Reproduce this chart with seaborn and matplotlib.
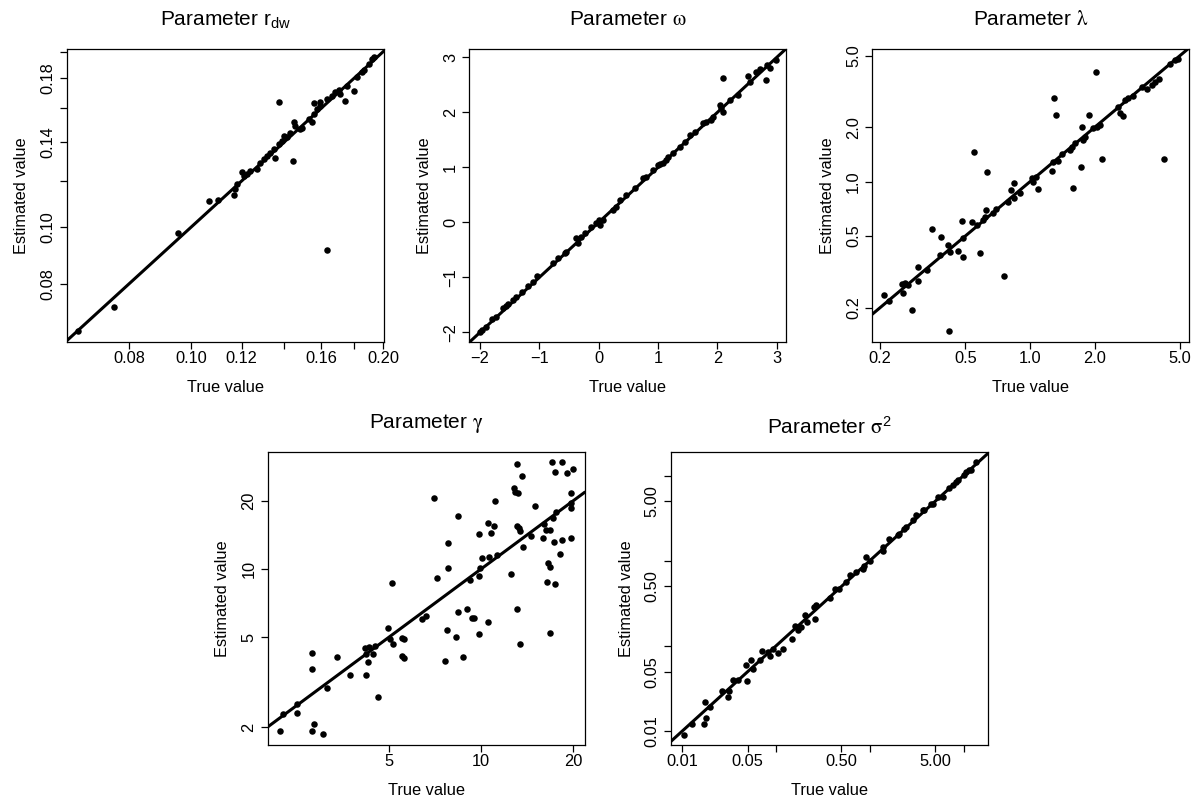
import matplotlib
matplotlib.use("Agg")
import matplotlib.pyplot as plt
import pandas as pd
import seaborn as sns

# values (true vs estimated, per parameter)
rdw_true = [0.0665, 0.0758, 0.0953, 0.1068, 0.1104, 0.1166, 0.1173, 0.1180, 0.1202, 0.1209,
            0.1224, 0.1239, 0.1269, 0.1284, 0.1300, 0.1315, 0.1331, 0.1355, 0.1347, 0.1372,
            0.1372, 0.1388, 0.1397, 0.1414, 0.1431, 0.1445, 0.1451, 0.1457, 0.1483, 0.1492,
            0.1529, 0.1547, 0.1556, 0.1560, 0.1575, 0.1590, 0.1594, 0.1633, 0.1633, 0.1663,
            0.1683, 0.1703, 0.1714, 0.1745, 0.1755, 0.1798, 0.1820, 0.1853, 0.1864, 0.1898,
            0.1921, 0.1932]
rdw_est = [0.0664, 0.0731, 0.0976, 0.1110, 0.1114, 0.1135, 0.1161, 0.1184, 0.1244, 0.1224,
           0.1232, 0.1249, 0.1257, 0.1290, 0.1308, 0.1325, 0.1343, 0.1313, 0.1360, 0.1637,
           0.1388, 0.1406, 0.1434, 0.1425, 0.1453, 0.1299, 0.1516, 0.1492, 0.1473, 0.1482,
           0.1532, 0.1512, 0.1563, 0.1630, 0.1594, 0.1637, 0.1615, 0.0915, 0.1659, 0.1681,
           0.1703, 0.1719, 0.1692, 0.1643, 0.1749, 0.1710, 0.1807, 0.1843, 0.1861, 0.1905,
           0.1944, 0.1956]

omega_true = [-2.006, -1.961, -1.904, -1.792, -1.725, -1.612, -1.567, -1.528, -1.444, -1.388,
              -1.287, -1.191, -1.107, -1.039, -0.770, -0.685, -0.573, -0.545, -0.376, -0.348,
              -0.292, -0.236, -0.124, -0.039, 0.006, 0.017, 0.073, 0.242, 0.298, 0.354,
              0.466, 0.607, 0.747, 0.803, 0.916, 1.000, 1.028, 1.084, 1.140, 1.169,
              1.253, 1.365, 1.449, 1.534, 1.618, 1.758, 1.815, 1.899, 1.927, 2.039,
              2.067, 2.096, 2.096, 2.208, 2.348, 2.517, 2.545, 2.657, 2.713, 2.815,
              2.837, 2.882, 2.994]
omega_est = [-1.988, -1.958, -1.897, -1.764, -1.715, -1.564, -1.521, -1.485, -1.412, -1.352,
             -1.261, -1.158, -1.079, -0.976, -0.745, -0.655, -0.564, -0.533, -0.291, -0.370,
             -0.273, -0.200, -0.079, -0.006, 0.042, -0.048, 0.042, 0.224, 0.285, 0.406,
             0.497, 0.618, 0.800, 0.830, 0.952, 1.042, 1.061, 1.073, 1.133, 1.194,
             1.255, 1.376, 1.467, 1.588, 1.648, 1.800, 1.830, 1.861, 1.921, 2.133,
             2.073, 2.012, 2.630, 2.224, 2.315, 2.661, 2.558, 2.739, 2.782, 2.588,
             2.861, 2.812, 2.952]

lam_true = [0.209, 0.2204, 0.2525, 0.2570, 0.2616, 0.2711, 0.2810, 0.3019, 0.3019, 0.3301,
            0.3482, 0.3808, 0.3836, 0.4209, 0.4164, 0.4239, 0.4603, 0.4822, 0.4857, 0.4857,
            0.5350, 0.5644, 0.5465, 0.5828, 0.6062, 0.6171, 0.6215, 0.6304, 0.6747, 0.6942,
            0.7592, 0.7870, 0.8127, 0.8424, 0.8424, 0.8983, 1.018, 1.0363, 1.0627, 1.0935,
            1.2616, 1.2844, 1.3552, 1.4146, 1.2936, 1.3216, 1.5359, 1.5637, 1.5920, 1.6206,
            1.7219, 1.7467, 1.7593, 1.8040, 1.8899, 1.9725, 2.0301, 2.0594, 2.1190, 2.1573,
            2.5792, 2.6259, 2.7027, 2.770, 2.872, 3.029, 3.313, 3.495, 3.688, 3.822,
            4.004, 4.225, 4.489, 4.737, 4.909]
lam_est = [0.236, 0.2188, 0.2696, 0.2403, 0.2730, 0.2673, 0.1934, 0.3378, 0.2825, 0.3237,
           0.5441, 0.3920, 0.4955, 0.1479, 0.4454, 0.4090, 0.4125, 0.6050, 0.3838, 0.4851,
           0.6000, 0.5749, 1.4545, 0.4039, 0.6128, 0.6340, 0.6965, 1.1364, 0.6674, 0.7085,
           0.3011, 0.7747, 0.8991, 0.9790, 0.8083, 0.8690, 1.0435, 1.000, 1.066, 0.9068,
           1.1460, 1.2908, 1.3075, 1.4233, 2.898, 2.343, 1.4983, 1.5637, 0.9184, 1.6454,
           1.2009, 2.0184, 1.7021, 1.7760, 2.343, 1.9757, 4.074, 2.018, 2.0615, 1.3298,
           2.5834, 2.3929, 2.3127, 2.837, 2.898, 2.986, 3.336, 3.251, 3.436, 3.585,
           3.710, 1.330, 4.474, 4.727, 4.769]

gam_true = [2.200, 2.255, 2.511, 2.511, 2.809, 2.809, 2.844, 2.809, 3.050, 3.143,
            3.387, 3.724, 4.184, 4.207, 4.218, 4.271, 4.314, 4.422, 4.489, 4.614,
            4.959, 5.046, 5.110, 5.148, 5.508, 5.619, 5.508, 5.619, 6.398, 6.609,
            6.999, 8.399, 7.789, 7.808, 7.175, 9.876, 10.56, 10.75, 11.05, 11.11,
            10.08, 10.59, 9.95, 11.24, 9.232, 9.827, 9.005, 8.399, 9.326, 9.467,
            10.51, 7.731, 8.293, 9.876, 7.598, 8.718, 13.06, 12.77, 12.93, 13.16,
            13.56, 15.02, 12.52, 13.09, 13.26, 13.39, 13.66, 14.54, 13.09, 13.39,
            16.06, 15.98, 16.26, 16.76, 17.01, 18.34, 17.40, 17.53, 17.18, 17.31,
            18.43, 19.61, 18.11, 16.55, 16.80, 16.38, 17.44, 16.80, 19.13, 19.96,
            19.61, 19.61, 19.61]
gam_est = [1.929, 2.285, 2.537, 2.308, 4.246, 3.621, 2.064, 1.935, 1.865, 2.975,
           4.105, 3.396, 4.467, 4.203, 3.396, 3.902, 4.512, 4.217, 4.574, 2.715,
           5.492, 4.930, 8.645, 4.652, 4.981, 4.912, 4.147, 4.064, 5.997, 6.204,
           20.50, 17.13, 13.07, 10.07, 9.095, 14.22, 16.01, 14.47, 15.48, 19.95,
           11.15, 11.26, 10.07, 11.53, 8.944, 9.314, 6.639, 6.483, 6.059, 6.059,
           5.837, 5.363, 5.028, 5.148, 3.927, 4.105, 29.05, 22.69, 21.94, 21.57,
           25.72, 18.96, 9.504, 15.48, 15.11, 14.76, 12.55, 14.03, 6.639, 4.652,
           15.75, 13.65, 14.86, 14.86, 29.55, 29.55, 26.70, 17.91, 16.85, 13.11,
           13.43, 13.75, 11.61, 10.59, 10.24, 8.734, 8.557, 5.236, 26.61, 27.52,
           21.72, 19.49, 18.65]

sig_true = [0.0105, 0.01267, 0.01727, 0.0180, 0.01756, 0.01984, 0.0264, 0.03057, 0.03184, 0.03512,
            0.03905, 0.04946, 0.04748, 0.05366, 0.05731, 0.06855, 0.0714, 0.0827, 0.08614, 0.09345,
            0.1056, 0.1194, 0.1500, 0.1614, 0.1723, 0.1839, 0.2062, 0.2165, 0.2591, 0.2698,
            0.2528, 0.3801, 0.4226, 0.4699, 0.5622, 0.610, 0.718, 0.845, 0.880, 0.917,
            1.012, 1.379, 1.402, 1.623, 1.991, 2.074, 2.343, 2.441, 2.873, 3.118,
            3.670, 3.823, 4.501, 4.688, 5.299, 5.987, 7.047, 7.645, 8.296, 8.643,
            10.17, 10.60, 11.50, 11.98, 13.53]
sig_est = [0.00906, 0.0122, 0.0122, 0.01422, 0.02192, 0.01914, 0.03005, 0.02509, 0.03005, 0.0401,
           0.0401, 0.03939, 0.06073, 0.06767, 0.05401, 0.0689, 0.08636, 0.0848, 0.07542, 0.0928,
           0.08253, 0.0928, 0.1216, 0.1698, 0.1524, 0.1668, 0.2287, 0.1909, 0.2089, 0.2998,
           0.2865, 0.3688, 0.4705, 0.4705, 0.5635, 0.6748, 0.7386, 0.808, 0.869, 1.108,
           0.995, 1.453, 1.304, 1.820, 1.992, 2.084, 2.386, 2.496, 2.990, 3.421,
           3.917, 3.917, 4.694, 4.609, 5.619, 5.619, 7.234, 7.704, 8.433, 8.822,
           10.10, 11.05, 11.56, 11.77, 14.49]

rdw_ticks = [0.08, 0.10, 0.12, 0.14, 0.16, 0.18, 0.20]
rdw_xlabels = ["0.08", "0.10", "0.12", "", "0.16", "", "0.20"]
rdw_ylabels = ["0.08", "0.10", "", "0.14", "", "0.18", ""]
omega_ticks = [-2, -1, 0, 1, 2, 3]
omega_labels = ["\u22122", "\u22121", "0", "1", "2", "3"]
lam_ticks = [0.2, 0.5, 1.0, 2.0, 5.0]
lam_labels = ["0.2", "0.5", "1.0", "2.0", "5.0"]
gam_xticks = [5, 10, 20]
gam_xlabels = ["5", "10", "20"]
gam_yticks = [2, 5, 10, 20]
gam_ylabels = ["2", "5", "10", "20"]
sig_ticks = [0.01, 0.05, 0.1, 0.5, 1, 5, 10]
sig_labels = ["0.01", "0.05", "", "0.50", "", "5.00", ""]

sns.set_theme(style="ticks")
plt.rcParams["font.family"] = ["Liberation Sans", "DejaVu Sans"]
plt.rcParams["mathtext.fontset"] = "stix"
plt.rcParams["axes.edgecolor"] = "black"
plt.rcParams["axes.linewidth"] = 0.9
plt.rcParams["text.color"] = "black"
plt.rcParams["axes.labelcolor"] = "black"
plt.rcParams["axes.titlecolor"] = "black"

fig = plt.figure(figsize=(12.01, 8.01), dpi=100)

panels = [
    dict(title=r"Parameter $\mathregular{r_{dw}}$", x=rdw_true, y=rdw_est, log=True,
         xlim=(0.0639, 0.2003), ylim=(0.0636, 0.202),
         xt=rdw_ticks, xl=rdw_xlabels, yt=rdw_ticks, yl=rdw_ylabels,
         rect=[0.0555, 0.573, 0.264, 0.3658], pad=17),
    dict(title=r"Parameter $\mathrm{\omega}$", x=omega_true, y=omega_est, log=False,
         xlim=(-2.18, 3.163), ylim=(-2.176, 3.152),
         xt=omega_ticks, xl=omega_labels, yt=omega_ticks, yl=omega_labels,
         rect=[0.3908, 0.573, 0.264, 0.3658], pad=17),
    dict(title=r"Parameter $\mathrm{\lambda}$", x=lam_true, y=lam_est, log=True,
         xlim=(0.184, 5.53), ylim=(0.129, 5.44),
         xt=lam_ticks, xl=lam_labels, yt=lam_ticks, yl=lam_labels,
         rect=[0.7263, 0.573, 0.264, 0.3658], pad=17),
    dict(title=r"Parameter $\mathrm{\gamma}$", x=gam_true, y=gam_est, log=True,
         xlim=(2.01, 21.8), ylim=(1.673, 32.8),
         xt=gam_xticks, xl=gam_xlabels, yt=gam_yticks, yl=gam_ylabels,
         rect=[0.2229, 0.0699, 0.264, 0.3658], pad=17),
    dict(title=r"Parameter $\mathrm{\sigma}^{\mathregular{2}}$", x=sig_true, y=sig_est, log=True,
         xlim=(0.00758, 18.16), ylim=(0.0069, 18.9),
         xt=sig_ticks, xl=sig_labels, yt=sig_ticks, yl=sig_labels,
         rect=[0.5585, 0.0699, 0.264, 0.3658], pad=13),
]

for p in panels:
    ax = fig.add_axes(p["rect"])
    df = pd.DataFrame({"true": p["x"], "est": p["y"]})
    if p["log"]:
        ax.set_xscale("log")
        ax.set_yscale("log")
    sns.scatterplot(data=df, x="true", y="est", ax=ax, color="black",
                    s=22, linewidth=0, legend=False)
    # identity line y = x (straight on both linear and log-log axes)
    ax.axline((1, 1), (2, 2), color="black", linewidth=2.2)
    ax.set_xlim(*p["xlim"])
    ax.set_ylim(*p["ylim"])
    ax.set_xticks(p["xt"], p["xl"])
    ax.set_yticks(p["yt"], p["yl"])
    ax.minorticks_off()
    ax.tick_params(axis="both", direction="out", length=5, width=0.9,
                   color="black", labelcolor="black", labelsize=11.8)
    ax.tick_params(axis="x", pad=1.5)
    ax.tick_params(axis="y", pad=3, labelrotation=90)
    for lab in ax.get_yticklabels():
        lab.set_verticalalignment("center")
    for side in ["top", "right", "bottom", "left"]:
        ax.spines[side].set_visible(True)
        ax.spines[side].set_color("black")
    ax.set_xlabel("True value", fontsize=11.8, labelpad=10)
    ax.set_ylabel("Estimated value", fontsize=11.8, labelpad=8)
    ax.set_title(p["title"], fontsize=15, pad=p["pad"], color="black")

fig.savefig("out.png", dpi=100)
